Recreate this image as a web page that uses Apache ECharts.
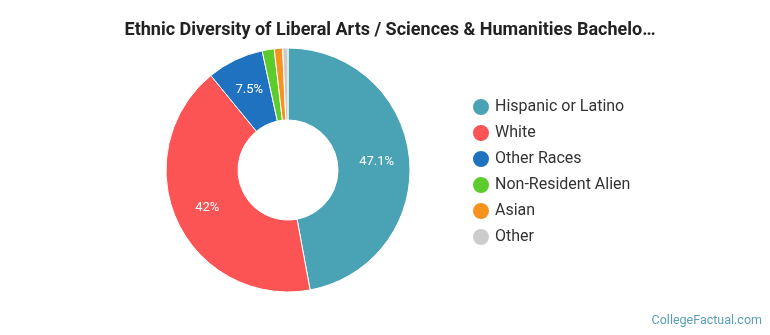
<!DOCTYPE html>
<html>
<head>
<meta charset="utf-8">
<script src="https://cdn.jsdelivr.net/npm/echarts@6/dist/echarts.min.js"></script>
<style>html,body{margin:0;padding:0;background:#fff}#c{width:770px;height:335px}</style>
</head>
<body>
<div id="c"></div>
<script>
const titleText = 'Ethnic Diversity of Liberal Arts / Sciences & Humanities Bachelo\u2026';
const categories = ['Hispanic or Latino', 'White', 'Other Races', 'Non-Resident Alien', 'Asian', 'Other'];
const values = [47.1, 42, 7.5, 1.6, 1.1, 0.7];
const colors = ['#4aa3b5', '#fc5355', '#1f72c0', '#5ccb2c', '#f7921e', '#cccccc'];

const chart = echarts.init(document.getElementById('c'), null, {renderer: 'canvas'});
chart.setOption({
  animation: false,
  title: {
    text: titleText,
    left: 385, top: 16, textAlign: 'center',
    textStyle: {fontFamily: 'Roboto', fontWeight: 'bold', fontSize: 18, color: '#222'}
  },
  legend: {
    orient: 'vertical',
    left: 466, top: 92,
    icon: 'circle', itemWidth: 18, itemHeight: 18, itemGap: 6,
    textStyle: {fontFamily: 'Roboto', fontSize: 16, color: '#333', padding: [0, 0, 0, 0]},
    data: categories
  },
  series: [{
    type: 'pie',
    center: [288, 170],
    radius: [50, 122],
    startAngle: 90,
    clockwise: true,
    avoidLabelOverlap: false,
    itemStyle: {borderColor: '#fff', borderWidth: 1},
    label: {
      position: 'inside',
      color: '#fff', fontFamily: 'Roboto', fontSize: 13,
      formatter: p => p.value >= 5 ? p.value + '%' : ''
    },
    labelLine: {show: false},
    data: categories.map((n, i) => ({name: n, value: values[i], itemStyle: {color: colors[i]}}))
  }],
  graphic: [{
    type: 'text', right: 8, bottom: 8,
    style: {text: 'CollegeFactual.com', fill: '#5a9fb8', font: '12.5px Roboto'}
  }]
});
</script>
</body>
</html>
